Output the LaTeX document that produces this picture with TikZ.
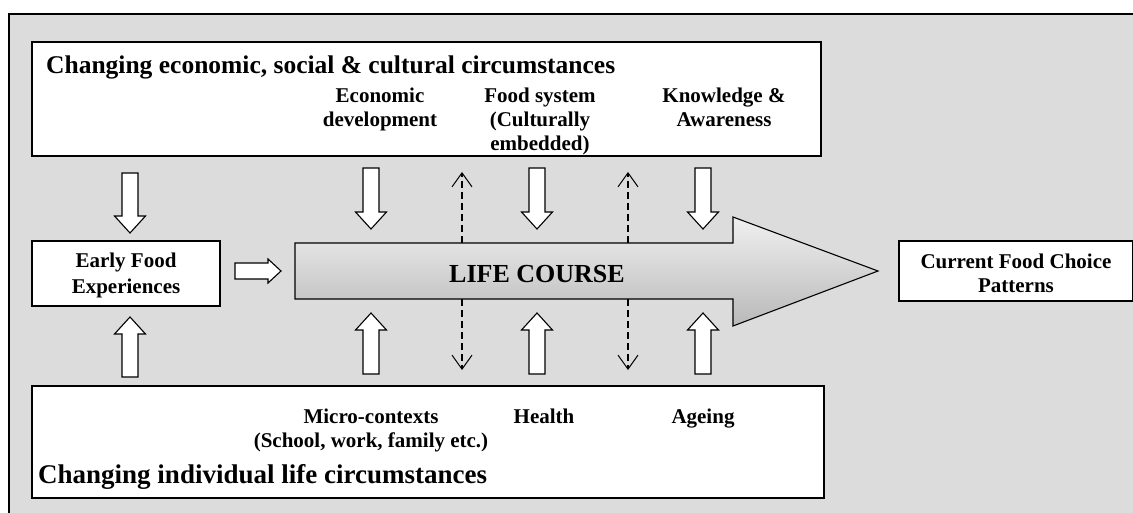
\documentclass[tikz,border=0pt]{standalone}
\usepackage{fontspec}
\setmainfont{Liberation Serif}
\usetikzlibrary{arrows.meta}
\definecolor{bg}{HTML}{DCDCDC}
\newcommand{\blkdown}[3]{% x, shaft top y, tip y
  \draw[blk] (#1-8,#2) -- (#1+8,#2) -- (#1+8,#3-17) -- (#1+15.5,#3-17) -- (#1,#3)
    -- (#1-15.5,#3-17) -- (#1-8,#3-17) -- cycle;}
\newcommand{\blkup}[3]{% x, shaft bottom y, tip y
  \draw[blk] (#1-8,#2) -- (#1+8,#2) -- (#1+8,#3+17) -- (#1+15.5,#3+17) -- (#1,#3)
    -- (#1-15.5,#3+17) -- (#1-8,#3+17) -- cycle;}
\begin{document}
\begin{tikzpicture}[x=1pt,y=-1pt,
  box/.style={draw, line width=1.3pt, fill=white, inner sep=0pt},
  blk/.style={draw, line width=1.1pt, fill=white, line join=miter},
  lbl/.style={font=\bfseries\fontsize{21}{24}\selectfont, align=center, inner sep=0pt},
  ttl/.style={font=\bfseries\fontsize{27}{30}\selectfont, inner sep=0pt, anchor=base west},
  dsh/.style={dash pattern=on 7pt off 4pt, line width=1.6pt,
    -{Straight Barb[length=14pt,width=20pt,line width=1pt]}}
]
\useasboundingbox (0,0) rectangle (1133,513);
\clip (0,0) rectangle (1133,513);
\fill[white] (0,0) rectangle (1133,513);
\draw[fill=bg, line width=1.3pt] (9,14) rectangle (1150,530);

% top box
\node[box, minimum width=789, minimum height=114] (econ) at (426.5,99) {};
\node[ttl, font=\bfseries\fontsize{25.5}{30}\selectfont] (econt) at (46,74) {Changing economic, social \& cultural circumstances};
\node[lbl, anchor=north] (ecdev) at (380,88) {Economic\\development};
\node[lbl, anchor=north] (foodsys) at (540,88) {Food system\\(Culturally\\embedded)};
\node[lbl, anchor=north] (know) at (724,88) {Knowledge \&\\Awareness};

% bottom box
\node[box, minimum width=792, minimum height=112] (indiv) at (428,442) {};
\node[ttl] (indivt) at (38,483) {Changing individual life circumstances};
\node[lbl, anchor=north] (micro) at (371,409) {Micro-contexts\\(School, work, family etc.)};
\node[lbl, anchor=north] (health) at (544,409) {Health};
\node[lbl, anchor=north] (ageing) at (703,409) {Ageing};

% side boxes
\node[box, minimum width=188, minimum height=65] (early) at (126,273.5) {};
\node[lbl, font=\bfseries\fontsize{21}{26}\selectfont] (earlyt) at ([yshift=-1.5pt]early) {Early Food\\Experiences};
\node[box, minimum width=234, minimum height=60] (current) at (1016,271) {};
\node[lbl] (currentt) at ([yshift=-2pt]current) {Current Food Choice\\Patterns};

% big arrow
\draw[line width=1.1pt, top color=gray!12, middle color=white, bottom color=gray!55]
  (295,243) -- (733,243) -- (733,217) -- (878,271) -- (733,326) -- (733,299) -- (295,299) -- cycle;
\node[font=\bfseries\fontsize{26}{28}\selectfont, inner sep=0pt, anchor=base] (life) at (537,283) {LIFE COURSE};

% small arrow from early food
\draw[blk] (235,263) -- (268,263) -- (268,259) -- (281,271) -- (268,283) -- (268,279) -- (235,279) -- cycle;

% block arrows
\blkdown{130}{173}{233}
\blkdown{371}{168}{229}
\blkdown{537}{168}{229}
\blkdown{703}{168}{229}
\blkup{130}{377}{317}
\blkup{371}{374}{313}
\blkup{537}{374}{313}
\blkup{703}{374}{313}

% dashed arrows
\coordinate (d1a) at (462,243); \coordinate (d1b) at (462,172);
\coordinate (d2a) at (628,243); \coordinate (d2b) at (628,172);
\coordinate (d3a) at (462,299); \coordinate (d3b) at (462,370);
\coordinate (d4a) at (628,299); \coordinate (d4b) at (628,370);
\draw[dsh] (d1a) -- (d1b);
\draw[dsh] (d2a) -- (d2b);
\draw[dsh] (d3a) -- (d3b);
\draw[dsh] (d4a) -- (d4b);
\end{tikzpicture}
\end{document}
